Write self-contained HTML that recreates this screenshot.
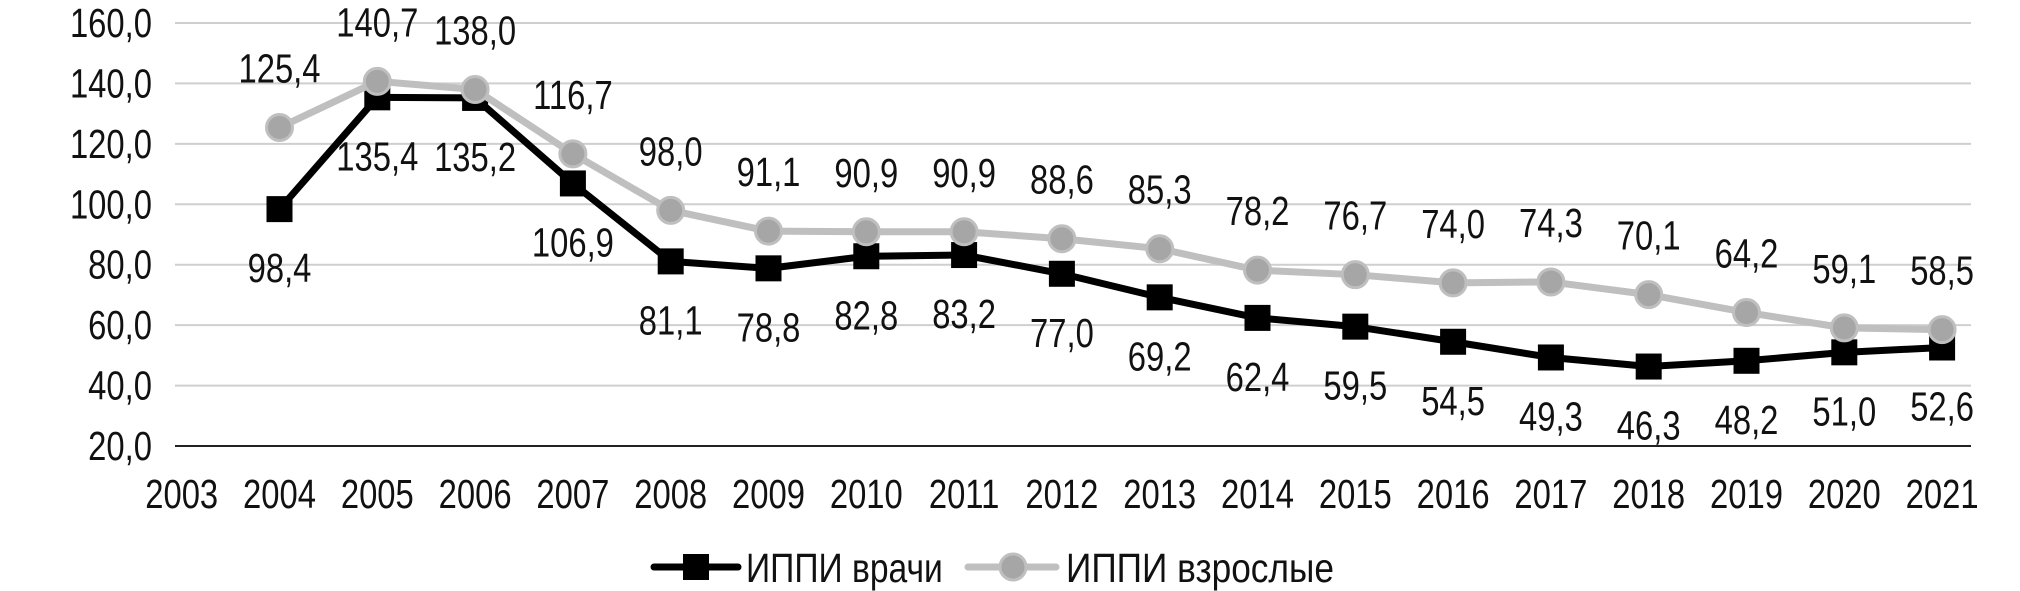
<!DOCTYPE html>
<html><head><meta charset="utf-8">
<style>
html,body{margin:0;padding:0;background:#fff;}
svg{display:block;}
text{font-family:"Liberation Sans",sans-serif;font-size:41px;fill:#111;}
</style></head>
<body>
<svg id="c" width="2020" height="591" viewBox="0 0 2020 591" xmlns="http://www.w3.org/2000/svg"></svg>
<script>
var s=document.getElementById('c');var h='';
function y(v){return 446-(v-20)*3.0214;}
function x(i){return 181.7+i*97.8;}
function T(px,py,anchor,str,sx){return '<g transform="translate('+px+','+py+') scale('+(sx||0.8)+',1)"><text x="0" y="0" text-anchor="'+anchor+'">'+str+'</text></g>';}
for(var v=40;v<=160;v+=20){h+='<line x1="175" x2="1971" y1="'+y(v)+'" y2="'+y(v)+'" stroke="#cfcfcf" stroke-width="2"/>';}
h+='<line x1="175" x2="1971" y1="446" y2="446" stroke="#222" stroke-width="2"/>';
for(var v=20;v<=160;v+=20){h+=T(152,y(v)+14,'end',v+',0');}
for(var i=0;i<19;i++){h+=T(x(i),508,'middle',(2003+i));}
var g=[125.4,140.7,138.0,116.7,98.0,91.1,90.9,90.9,88.6,85.3,78.2,76.7,74.0,74.3,70.1,64.2,59.1,58.5];
var b=[98.4,135.4,135.2,106.9,81.1,78.8,82.8,83.2,77.0,69.2,62.4,59.5,54.5,49.3,46.3,48.2,51.0,52.6];
function pts(a){return a.map(function(v,i){return x(i+1)+','+y(v)}).join(' ');}
h+='<polyline points="'+pts(b)+'" fill="none" stroke="#000" stroke-width="7" stroke-linejoin="round"/>';
b.forEach(function(v,i){h+='<rect x="'+(x(i+1)-13)+'" y="'+(y(v)-13)+'" width="26" height="26" fill="#000"/>';});
h+='<polyline points="'+pts(g)+'" fill="none" stroke="#bfbfbf" stroke-width="7" stroke-linejoin="round"/>';
g.forEach(function(v,i){h+='<circle cx="'+x(i+1)+'" cy="'+y(v)+'" r="13" fill="#a6a6a6" stroke="#bfbfbf" stroke-width="3"/>';});
function f(v){return v.toFixed(1).replace('.',',');}
g.forEach(function(v,i){h+=T(x(i+1),y(v)-45,'middle',f(v));});
b.forEach(function(v,i){h+=T(x(i+1),y(v)+73,'middle',f(v));});
h+='<line x1="654" x2="738" y1="567" y2="567" stroke="#000" stroke-width="7" stroke-linecap="round"/>';
h+='<rect x="683" y="554" width="26" height="26" fill="#000"/>';
h+=T(746,582,'start','ИППИ врачи',0.82);
h+='<line x1="968" x2="1056" y1="567" y2="567" stroke="#bfbfbf" stroke-width="7" stroke-linecap="round"/>';
h+='<circle cx="1013" cy="567" r="13" fill="#a6a6a6" stroke="#bfbfbf" stroke-width="3"/>';
h+=T(1066,582,'start','ИППИ взрослые',0.86);
s.innerHTML=h;
</script>
</body></html>
